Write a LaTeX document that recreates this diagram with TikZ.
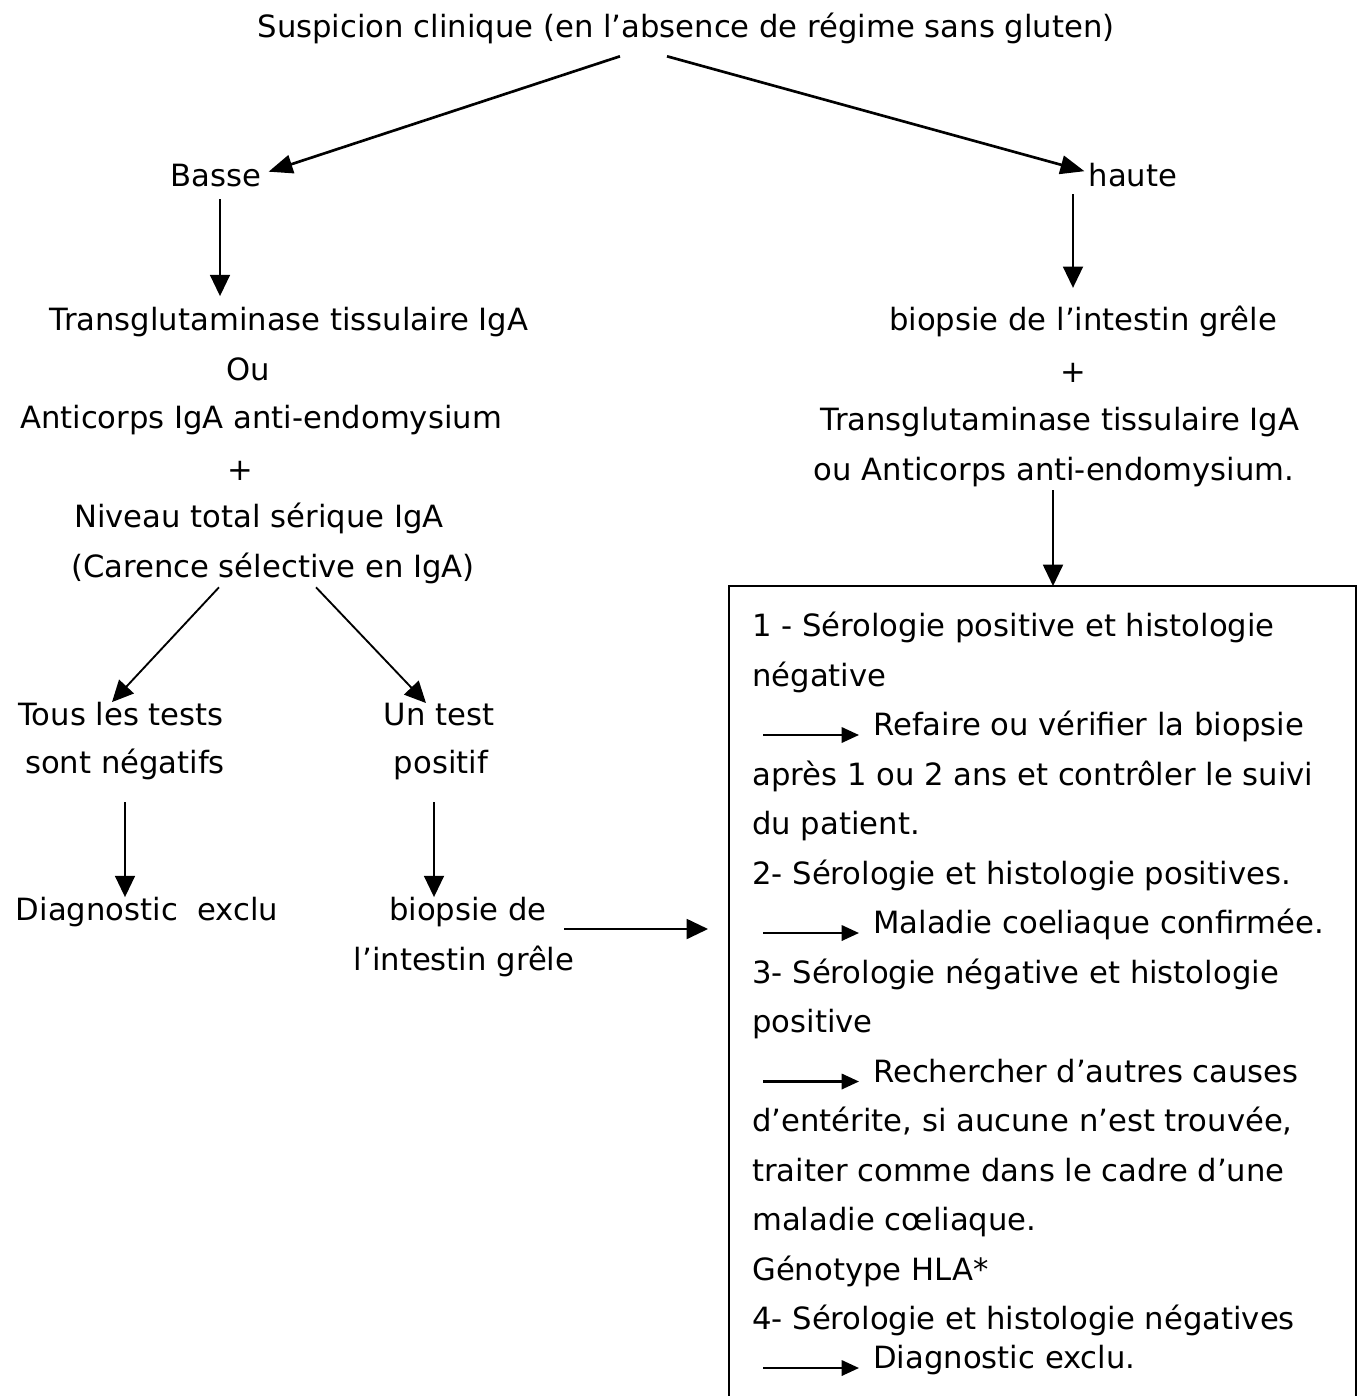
\documentclass[tikz,border=0pt]{standalone}
\usepackage{fontspec}
\setmainfont{DejaVu Sans}
\usetikzlibrary{arrows.meta,calc}

\begin{document}
\begin{tikzpicture}[x=0.75pt, y=-0.75pt,
txt/.style={inner sep=0pt, anchor=mid, font=\fontsize{23}{28}\selectfont},
ligne/.style={inner sep=0pt, anchor=mid west, font=\fontsize{23}{28}\selectfont},
fl/.style={line width=1.4pt, -{Triangle[length=16pt, width=15pt]}},
flh/.style={line width=2pt, -{Triangle[length=18pt, width=14pt]}},
petite/.style={line width=1.8pt, -{Triangle[length=13pt, width=11.5pt]}}]
    \useasboundingbox (0,0) rectangle (1359,1396);
    % Nodes
    \node (susp) [txt] at (686,34) {Suspicion clinique (en l’absence de régime sans gluten)};
    \node (basse) [txt] at (216,183) {Basse};
    \node (haute) [txt] at (1133,183) {haute};
    % gauche
    \node (tg) [txt] at (289,327) {Transglutaminase tissulaire IgA};
    \node (ou) [txt] at (248,377) {Ou};
    \node (ac) [txt] at (261,425) {Anticorps IgA anti-endomysium};
    \node (plusg) [txt] at (240,477) {+};
    \node (niv) [txt] at (259,524) {Niveau total sérique IgA};
    \node (car) [txt] at (273,574) {(Carence sélective en IgA)};
    \node (tous) [txt] at (121,722) {Tous les tests};
    \node (sont) [txt] at (125,770) {sont négatifs};
    \node (un) [txt] at (439,722) {Un test};
    \node (pos) [txt] at (441,770) {positif};
    \node (diag) [txt] at (147,917) {Diagnostic~ exclu};
    \node (biop) [txt] at (468,917) {biopsie de};
    \node (intes) [txt] at (464,967) {l’intestin grêle};
    % droite
    \node (hb) [txt] at (1083,327) {biopsie de l’intestin grêle};
    \node (plusd) [txt] at (1073,379) {+};
    \node (htg) [txt] at (1060,427) {Transglutaminase tissulaire IgA};
    \node (hac) [txt] at (1054,477) {ou Anticorps anti-endomysium.};
    % cadre
    \node (cadre) [inner sep=0pt, anchor=north west, minimum width=469.5pt, minimum height=607.5pt] at (729,586) {};
    \draw[line width=1.5pt] (cadre.south west) -- (cadre.north west) -- (cadre.north east) -- (cadre.south east);
    \node (l1) [ligne] at (752,633) {1 - Sérologie positive et histologie};
    \node (l2) [ligne] at (752,682.5) {négative};
    \node (r1) [ligne] at (873,732) {Refaire ou vérifier la biopsie};
    \node (l4) [ligne] at (752,781.5) {après 1 ou 2 ans et contrôler le suivi};
    \node (l5) [ligne] at (752,831) {du patient.};
    \node (l6) [ligne] at (752,880.5) {2- Sérologie et histologie positives.};
    \node (r2) [ligne] at (873,930) {Maladie coeliaque confirmée.};
    \node (l8) [ligne] at (752,979.5) {3- Sérologie négative et histologie};
    \node (l9) [ligne] at (752,1029) {positive};
    \node (r3) [ligne] at (873,1078.5) {Rechercher d’autres causes};
    \node (l11) [ligne] at (752,1128) {d’entérite, si aucune n’est trouvée,};
    \node (l12) [ligne] at (752,1177.5) {traiter comme dans le cadre d’une};
    \node (l13) [ligne] at (752,1227) {maladie cœliaque.};
    \node (l14) [ligne] at (752,1276.5) {Génotype HLA*};
    \node (l15) [ligne] at (752,1326) {4- Sérologie et histologie négatives};
    \node (r4) [ligne] at (873,1365) {Diagnostic exclu.};

    % Arrows
    \coordinate (a1) at ($(susp.south)+(-66,12)$);
    \coordinate (a2) at ($(susp.south)+(-19,12)$);
    \coordinate (k1) at ($(basse.east)+(7,-4)$);
    \coordinate (k2) at ($(haute.west)+(-4,-4)$);
    \draw[flh] (a1) -- (k1);
    \draw[flh] (a2) -- (k2);
    \coordinate (b1) at ($(basse.south)+(4,12)$);
    \draw[fl, shorten >=8.25pt] (b1) -- (b1 |- tg.north);
    \coordinate (h1) at ($(haute.south)+(-60,7)$);
    \draw[fl, shorten >=13.5pt] (h1) -- (h1 |- hb.north);
    \coordinate (h2) at ($(hac.south)+(-1,3)$);
    \draw[fl] (h2) -- (h2 |- cadre.north);
    \coordinate (c1) at ($(car.south)+(-54,3)$);
    \coordinate (c2) at ($(car.south)+(43,3)$);
    \coordinate (t1) at ($(tous.north)+(-9,0)$);
    \coordinate (u1) at ($(un.north)+(-13,0)$);
    \draw[fl] (c1) -- (t1);
    \draw[fl] (c2) -- (u1);
    \coordinate (s1) at ($(sont.south)+(0,22)$);
    \draw[fl] (s1) -- (s1 |- diag.north);
    \coordinate (p1) at ($(pos.south)+(-7,22)$);
    \draw[fl] (p1) -- (p1 |- biop.north);
    \coordinate (e1) at ($(biop.mid east)+(17,12)$);
    \draw[fl, shorten >=15.75pt] (e1) -- (e1 -| cadre.west);
    % petites fleches du cadre
    \draw[petite] ($(r1.mid west)+(-110,3)$) -- ($(r1.mid west)+(-14,3)$);
    \draw[petite] ($(r2.mid west)+(-110,3)$) -- ($(r2.mid west)+(-14,3)$);
    \draw[petite] ($(r3.mid west)+(-110,3)$) -- ($(r3.mid west)+(-14,3)$);
    \draw[petite] ($(r4.mid west)+(-110,3)$) -- ($(r4.mid west)+(-14,3)$);
\end{tikzpicture}
\end{document}
